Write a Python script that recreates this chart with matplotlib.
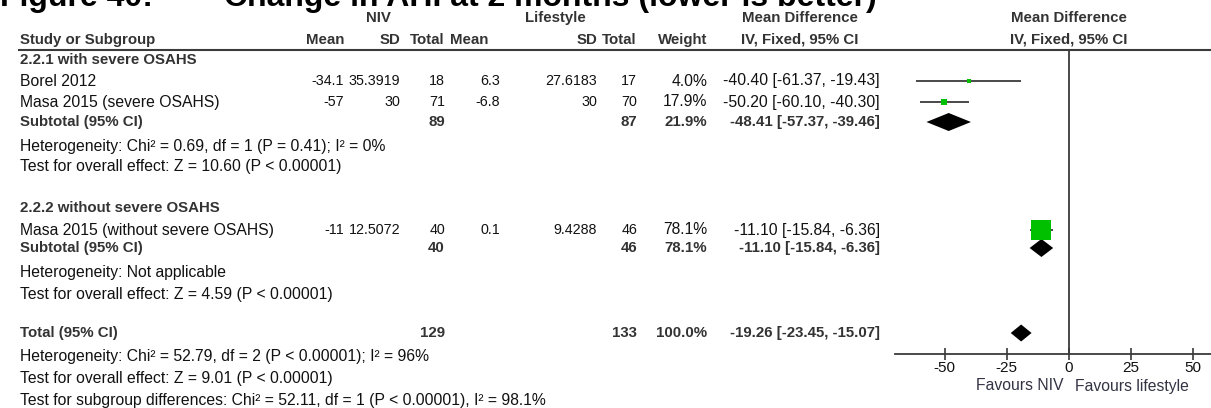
import matplotlib
matplotlib.use("Agg")
import matplotlib.pyplot as plt
from matplotlib import font_manager

W, H = 1211, 408
DPI = 100

names = {f.name for f in font_manager.fontManager.ttflist}
BODY = "Liberation Sans" if "Liberation Sans" in names else "DejaVu Sans"
HEAD = "Liberation Sans Narrow" if "Liberation Sans Narrow" in names else BODY

# ---- data -------------------------------------------------------------
studies = ["Borel 2012", "Masa 2015 (severe OSAHS)", "Masa 2015 (without severe OSAHS)"]
niv_mean = ["-34.1", "-57", "-11"]
niv_sd = ["35.3919", "30", "12.5072"]
niv_n = [18, 71, 40]
life_mean = ["6.3", "-6.8", "0.1"]
life_sd = ["27.6183", "30", "9.4288"]
life_n = [17, 70, 46]
weights = [4.0, 17.9, 78.1]
md = [-40.40, -50.20, -11.10]
md_lo = [-61.37, -60.10, -15.84]
md_hi = [-19.43, -40.30, -6.36]

sub_names = ["Subtotal (95% CI)", "Subtotal (95% CI)", "Total (95% CI)"]
sub_niv_n = [89, 40, 129]
sub_life_n = [87, 46, 133]
sub_weight = [21.9, 78.1, 100.0]
sub_md = [-48.41, -11.10, -19.26]
sub_lo = [-57.37, -15.84, -23.45]
sub_hi = [-39.46, -6.36, -15.07]

ticks = [-50, -25, 0, 25, 50]

# ---- layout (pixel rows / columns) -------------------------------------
study_rows = [81, 102, 230]
sub_rows = [122, 248, 333]
TXT = "#111111"
HDR = "#333333"
GREEN = "#00c000"
LINE = "#3a3a3a"

fig = plt.figure(figsize=(W / DPI, H / DPI), dpi=DPI)
ax = fig.add_axes([0, 0, 1, 1])
ax.set_xlim(0, W)
ax.set_ylim(H, 0)
ax.axis("off")

FS = 11.3      # running text
NFS = 10.3     # numeric columns
HFS = 10.8     # bold headings


def t(x, y, s, ha="left", bold=False, size=None, color=None):
    ax.text(x, y, s, ha=ha, va="center",
            fontsize=size or (HFS if bold else FS),
            family=HEAD if bold else BODY,
            fontweight="bold" if bold else "normal",
            color=color or (HDR if bold else TXT))


# title (its upper half runs past the top edge)
ax.text(0, 6, "Figure 40:        Change in AHI at 2 months (lower is better)",
        ha="left", va="baseline", fontsize=23, fontweight="bold",
        family=BODY, color="#000000", clip_on=False)

# column headers
COL_NM, COL_NS, COL_NN = 344, 400, 445
COL_LM, COL_LS, COL_LN = 500, 597, 637
COL_W, COL_MD = 707, 880
t(378, 18, "NIV", ha="center", bold=True)
t(555, 18, "Lifestyle", ha="center", bold=True)
t(800, 18, "Mean Difference", ha="center", bold=True)
t(1069, 18, "Mean Difference", ha="center", bold=True)
t(20, 40, "Study or Subgroup", bold=True)
t(344, 40, "Mean", ha="right", bold=True)
t(COL_NS, 40, "SD", ha="right", bold=True)
t(COL_NN, 40, "Total", ha="right", bold=True)
t(488, 40, "Mean", ha="right", bold=True)
t(COL_LS, 40, "SD", ha="right", bold=True)
t(COL_LN, 40, "Total", ha="right", bold=True)
t(COL_W, 40, "Weight", ha="right", bold=True)
t(800, 40, "IV, Fixed, 95% CI", ha="center", bold=True)
t(1069, 40, "IV, Fixed, 95% CI", ha="center", bold=True)
ax.plot([18, W], [50, 50], color=LINE, lw=1.5, solid_capstyle="butt")

# subgroup headings
t(20, 60, "2.2.1 with severe OSAHS", bold=True)
t(20, 208, "2.2.2 without severe OSAHS", bold=True)

# study rows
for i, y in enumerate(study_rows):
    t(20, y, studies[i])
    t(COL_NM, y, niv_mean[i], ha="right", size=NFS)
    t(COL_NS, y, niv_sd[i], ha="right", size=NFS)
    t(COL_NN, y, str(niv_n[i]), ha="right", size=NFS)
    t(COL_LM, y, life_mean[i], ha="right", size=NFS)
    t(COL_LS, y, life_sd[i], ha="right", size=NFS)
    t(COL_LN, y, str(life_n[i]), ha="right", size=NFS)
    t(COL_W, y, f"{weights[i]:.1f}%", ha="right")
    t(COL_MD, y, f"{md[i]:.2f} [{md_lo[i]:.2f}, {md_hi[i]:.2f}]", ha="right")

# subtotal / total rows
for i, y in enumerate(sub_rows):
    t(20, y, sub_names[i], bold=True)
    t(COL_NN, y, str(sub_niv_n[i]), ha="right", bold=True)
    t(COL_LN, y, str(sub_life_n[i]), ha="right", bold=True)
    t(COL_W, y, f"{sub_weight[i]:.1f}%", ha="right", bold=True)
    t(COL_MD, y, f"{sub_md[i]:.2f} [{sub_lo[i]:.2f}, {sub_hi[i]:.2f}]",
      ha="right", bold=True)

# heterogeneity / test lines
t(20, 146, "Heterogeneity: Chi\u00b2 = 0.69, df = 1 (P = 0.41); I\u00b2 = 0%")
t(20, 167, "Test for overall effect: Z = 10.60 (P < 0.00001)")
t(20, 273, "Heterogeneity: Not applicable")
t(20, 295, "Test for overall effect: Z = 4.59 (P < 0.00001)")
t(20, 356, "Heterogeneity: Chi\u00b2 = 52.79, df = 2 (P < 0.00001); I\u00b2 = 96%")
t(20, 378, "Test for overall effect: Z = 9.01 (P < 0.00001)")
t(20, 400, "Test for subgroup differences: Chi\u00b2 = 52.11, df = 1 (P < 0.00001), I\u00b2 = 98.1%")

# ---- forest panel ------------------------------------------------------
X0_PX, X1_PX, ZERO_PX, SCALE = 895, W, 1069, 2.485
Y_TOP, Y_AXIS = 50, 354
fx = fig.add_axes([X0_PX / W, 1 - Y_AXIS / H, (X1_PX - X0_PX) / W, (Y_AXIS - Y_TOP) / H])
fx.set_xlim((X0_PX - ZERO_PX) / SCALE, (X1_PX - ZERO_PX) / SCALE)
fx.set_ylim(Y_AXIS, Y_TOP)
fx.patch.set_alpha(0)
for s in ("top", "left", "right"):
    fx.spines[s].set_visible(False)
fx.spines["bottom"].set_color(LINE)
fx.spines["bottom"].set_linewidth(1.3)
fx.set_yticks([])
fx.set_xticks(ticks)
fx.set_xticklabels([str(v) for v in ticks], family=BODY, fontsize=11, color=TXT)
fx.tick_params(axis="x", direction="inout", length=8, width=1.2, color=LINE, pad=1)
fx.axvline(0, color=LINE, lw=1.3)

# study CIs and weighted squares
sq_sizes = [3.5, 6.5, 20]
for i, y in enumerate(study_rows):
    fx.plot([md_lo[i], md_hi[i]], [y, y], color=LINE, lw=1.3, solid_capstyle="butt")
    fx.plot([md[i]], [y], marker="s", linestyle="none",
            markersize=sq_sizes[i] * 0.72, color=GREEN, markeredgewidth=0)

# pooled diamonds
half_h = [9, 9, 8.5]
for i, y in enumerate(sub_rows):
    xs = [sub_lo[i], sub_md[i], sub_hi[i], sub_md[i]]
    ys = [y, y - half_h[i], y, y + half_h[i]]
    fx.fill(xs, ys, color="black", lw=0, clip_on=False)

ax.text(ZERO_PX - 6, 386, "Favours NIV", ha="right", va="center",
        fontsize=11.3, family=BODY, color="#333344")
ax.text(ZERO_PX + 6, 386, "Favours lifestyle", ha="left", va="center",
        fontsize=11.3, family=BODY, color="#333344")

fig.savefig("out.png", dpi=DPI)
